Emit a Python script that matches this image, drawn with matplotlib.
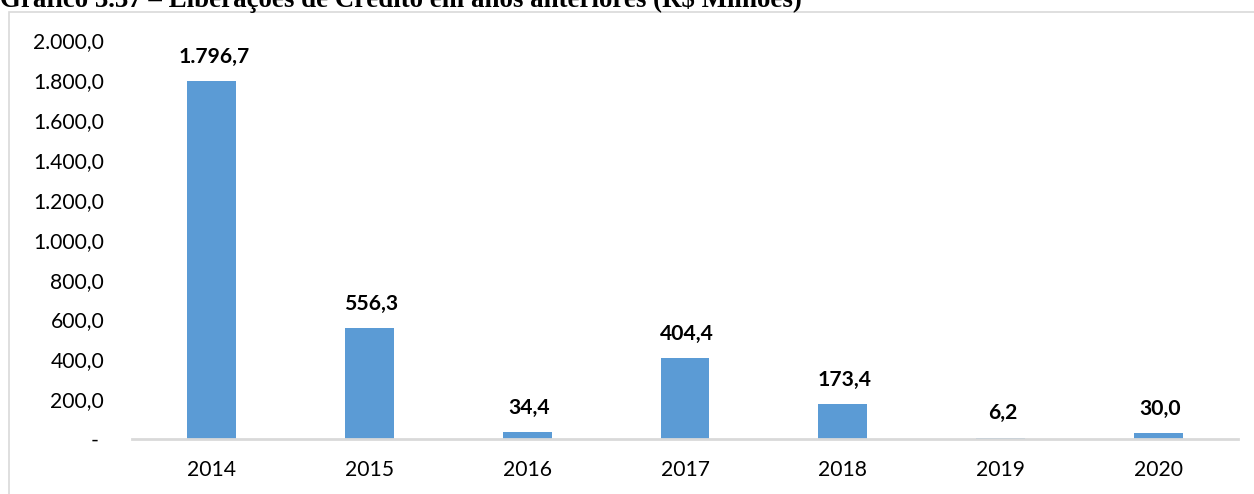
import matplotlib
matplotlib.use("Agg")
import matplotlib.pyplot as plt
from matplotlib.patches import Rectangle
from matplotlib.ticker import FuncFormatter, MultipleLocator

# Data
years = ["2014", "2015", "2016", "2017", "2018", "2019", "2020"]
values = [1796.7, 556.3, 34.4, 404.4, 173.4, 6.2, 30.0]
title = "Gráfico 3.37 – Liberações de Crédito em anos anteriores (R$ Milhões)"

BAR_COLOR = "#5B9BD5"
FONT = "Lato"
FS = 15.2


def br_number(v):
    s = f"{v:,.1f}"
    return s.replace(",", "X").replace(".", ",").replace("X", ".")


W, H, DPI = 1254, 494, 100
fig = plt.figure(figsize=(W / DPI, H / DPI), dpi=DPI)
fig.patch.set_facecolor("white")

# Light frame around the chart area (extends past right/bottom edges)
fig.add_artist(Rectangle((9 / W, -0.05), 1.2, 1 - 12 / H + 0.05,
                         transform=fig.transFigure, fill=False,
                         edgecolor="#d9d9d9", linewidth=1.2))

ax = fig.add_axes([132 / W, 1 - 439 / H, (1238 - 132) / W, (439 - 40.5) / H])
x = range(len(years))
bars = ax.bar(x, values, width=0.31, color=BAR_COLOR, zorder=2)

ax.set_xlim(-0.505, len(years) - 1 + 0.505)
ax.set_ylim(0, 2000)
ax.yaxis.set_major_locator(MultipleLocator(200))
ax.yaxis.set_major_formatter(FuncFormatter(lambda v, p: "- " if v == 0 else br_number(v)))
ax.set_xticks(list(x))
ax.set_xticklabels(years)

for s in ["top", "right", "left"]:
    ax.spines[s].set_visible(False)
ax.spines["bottom"].set_color("#d9d9d9")
ax.spines["bottom"].set_linewidth(2)
ax.tick_params(axis="both", length=0, labelsize=FS, colors="black")
ax.tick_params(axis="y", pad=20)
ax.tick_params(axis="x", pad=15)
for lab in ax.get_xticklabels() + ax.get_yticklabels():
    lab.set_fontfamily(FONT)

for xi, v in zip(x, values):
    ax.annotate(br_number(v), (xi, v), xytext=(1.5, 13.2), textcoords="offset points",
                ha="center", va="baseline", fontsize=FS, fontweight="bold",
                fontfamily=FONT)

# Title, partly cut by the top edge
t = fig.text(0.0, 1 - 7 / H, title, ha="left", va="baseline",
             fontfamily="Liberation Serif", fontweight="bold", fontsize=18)
fig.canvas.draw()
w = t.get_window_extent().width
t.set_fontsize(18 * 800 / w)

fig.savefig("out.png", dpi=DPI, facecolor="white")
